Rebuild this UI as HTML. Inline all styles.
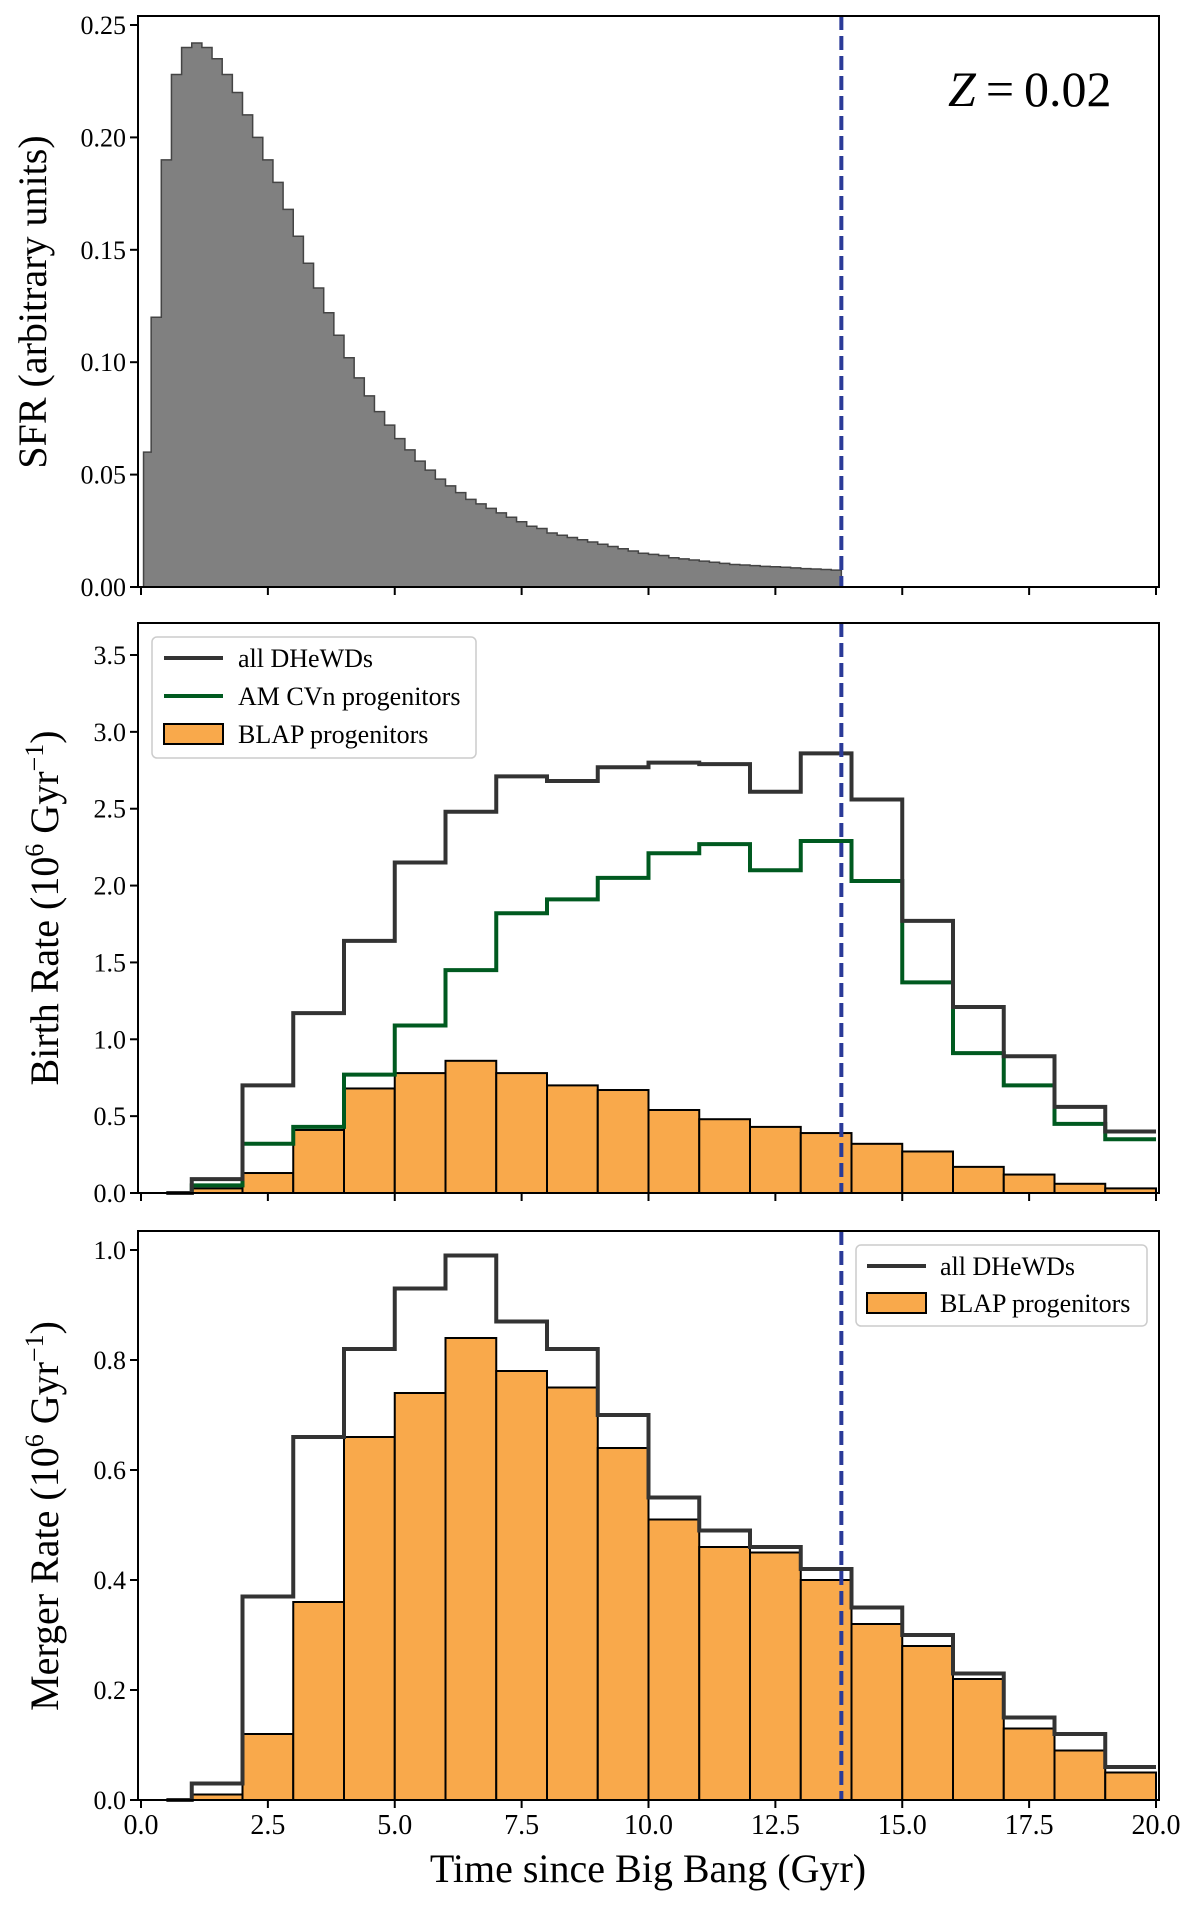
<!DOCTYPE html>
<html><head><meta charset="utf-8"><style>
html,body{margin:0;padding:0;background:#fff}
svg{display:block;font-family:"Liberation Serif",serif}
</style></head><body>
<svg id="c" width="1200" height="1905" xmlns="http://www.w3.org/2000/svg"></svg>
<script>
// ---- data ----
const sfrBinWidth = 0.2;
const sfrValues = [0.06,0.12,0.19,0.228,0.240,0.242,0.240,0.235,0.228,0.220,0.210,0.200,0.190,0.180,0.168,0.156,0.144,0.133,0.122,0.112,0.102,0.093,0.085,0.078,0.072,0.066,0.061,0.056,0.052,0.048,0.045,0.042,0.039,0.037,0.035,0.033,0.031,0.029,0.027,0.026,
0.024,0.023,0.022,0.021,0.020,0.019,0.018,0.017,0.016,0.015,
0.0145,0.014,0.013,0.0125,0.012,0.0115,0.011,0.0105,0.010,0.0098,
0.0095,0.0092,0.009,0.0088,0.0085,0.0082,0.008,0.0078,0.0075];
const binEdges = [0.5,1,2,3,4,5,6,7,8,9,10,11,12,13,14,15,16,17,18,19,20];
const birthAll = [0,0.09,0.70,1.17,1.64,2.15,2.48,2.71,2.68,2.77,2.80,2.79,2.61,2.86,2.56,1.77,1.21,0.89,0.56,0.40];
const birthAMCVn = [0,0.05,0.32,0.43,0.77,1.09,1.45,1.82,1.91,2.05,2.21,2.27,2.10,2.29,2.03,1.37,0.91,0.70,0.45,0.35];
const birthBLAP = [0,0.03,0.13,0.41,0.68,0.78,0.86,0.78,0.70,0.67,0.54,0.48,0.43,0.39,0.32,0.27,0.17,0.12,0.06,0.03];
const mergeAll = [0,0.03,0.37,0.66,0.82,0.93,0.99,0.87,0.82,0.70,0.55,0.49,0.46,0.42,0.35,0.30,0.23,0.15,0.12,0.06];
const mergeBLAP = [0,0.01,0.12,0.36,0.66,0.74,0.84,0.78,0.75,0.64,0.51,0.46,0.45,0.40,0.32,0.28,0.22,0.13,0.09,0.05];
const xTicks = [0,2.5,5,7.5,10,12.5,15,17.5,20];
const xTickLabels = ["0.0","2.5","5.0","7.5","10.0","12.5","15.0","17.5","20.0"];
const sfrTicks = [0,0.05,0.10,0.15,0.20,0.25];
const sfrTickLabels = ["0.00","0.05","0.10","0.15","0.20","0.25"];
const birthTicks = [0,0.5,1,1.5,2,2.5,3,3.5];
const birthTickLabels = ["0.0","0.5","1.0","1.5","2.0","2.5","3.0","3.5"];
const mergeTicks = [0,0.2,0.4,0.6,0.8,1.0];
const mergeTickLabels = ["0.0","0.2","0.4","0.6","0.8","1.0"];
const todayGyr = 13.8;

const svg = document.getElementById('c');
const NS = 'http://www.w3.org/2000/svg';
function mk(tag, attrs, parent){const e=document.createElementNS(NS,tag);for(const k in attrs)e.setAttribute(k,attrs[k]);(parent||svg).appendChild(e);return e;}
const X = t => 141 + 50.75*t;
const LEFT=138, RIGHT=1159;
const panels = [
  {top:16, bottom:587, y0:587, ymax:0.25, yTop:25},
  {top:623, bottom:1193, y0:1193, ymax:3.5, yTop:655},
  {top:1231, bottom:1800, y0:1800, ymax:1.0, yTop:1250}
];
function Yf(p){return v => p.y0 - (p.y0-p.yTop)*v/p.ymax;}

function stepPath(edges, vals, Y){
  let d='M'+X(edges[0])+','+Y(vals[0]);
  for(let i=0;i<vals.length;i++){
    d+=' L'+X(edges[i])+','+Y(vals[i])+' L'+X(edges[i+1])+','+Y(vals[i]);
  }
  return d;
}
function frame(p,name){
  const r=mk('rect',{x:LEFT,y:p.top,width:RIGHT-LEFT,height:p.bottom-p.top,fill:'none',stroke:'#000','stroke-width':2});
  
  
}
function yAxis(p,ticks,labels,name){
  const Y=Yf(p);
  ticks.forEach((v,i)=>{
    const l=mk('line',{x1:LEFT-8,x2:LEFT,y1:Y(v),y2:Y(v),stroke:'#000','stroke-width':2});
    
    
    const t=mk('text',{x:LEFT-12,y:Y(v)+9,'text-anchor':'end','font-size':26});
    t.textContent=labels[i];
    
    
  });
}
function xAxis(p,name,withLabels){
  xTicks.forEach((v,i)=>{
    const l=mk('line',{x1:X(v),x2:X(v),y1:p.bottom,y2:p.bottom+8,stroke:'#000','stroke-width':2});
    
    
    if(withLabels){
      const t=mk('text',{x:X(v),y:p.bottom+34,'text-anchor':'middle','font-size':28});
      t.textContent=xTickLabels[i];
      
      
    }
  });
}
function vline(p){
  const l=mk('line',{x1:X(todayGyr),x2:X(todayGyr),y1:p.top,y2:p.bottom,stroke:'#2a3a98','stroke-width':4,'stroke-dasharray':'14,6'});
  
  
}
function bars(p,vals,name){
  const Y=Yf(p);
  vals.forEach((v,i)=>{
    if(v<=0) return;
    const r=mk('rect',{x:X(binEdges[i]),y:Y(v),width:X(binEdges[i+1])-X(binEdges[i]),height:p.y0-Y(v),fill:'#f9a94b',stroke:'#000','stroke-width':2});
    
    
  });
}
function step(p,vals,color,name){
  const e=mk('path',{d:stepPath(binEdges,vals,Yf(p)),fill:'none',stroke:color,'stroke-width':4,'stroke-linejoin':'miter'});
  
  
}
function ylabel(html,cx,cy,name){
  const yl=mk('text',{x:0,y:0,'font-size':40,'text-anchor':'middle',transform:'translate('+cx+','+cy+') rotate(-90)'});
  yl.innerHTML=html;
  
  
}
const rateUnit='(10<tspan font-size="26" dy="-15">6</tspan><tspan dy="15"> Gyr</tspan><tspan font-size="26" dy="-15">\u22121</tspan><tspan dy="15">)</tspan>';

// Panel 1: SFR
(function(){
  const p=panels[0], Y=Yf(p);
  let d='M'+X(0.05)+','+Y(0);
  sfrValues.forEach((v,i)=>{d+=' L'+X(Math.max(0.05,i*sfrBinWidth))+','+Y(v)+' L'+X((i+1)*sfrBinWidth)+','+Y(v);});
  d+=' L'+X(sfrValues.length*sfrBinWidth)+','+Y(0)+' Z';
  const a=mk('path',{d:d,fill:'#808080',stroke:'#444','stroke-width':1.5});
  
  
  vline(p); frame(p,'sfr-panel'); yAxis(p,sfrTicks,sfrTickLabels,'sfr'); xAxis(p,'sfr',false);
  const z=mk('text',{x:948,y:106,'font-size':50});
  z.innerHTML='<tspan font-style="italic">Z</tspan>\u2009=\u20090.02';
  
  
  ylabel('SFR (arbitrary units)',46,302,'sfr-y-axis-title');
})();

// Panel 2: Birth rate
(function(){
  const p=panels[1];
  bars(p,birthBLAP,'birth-blap');
  step(p,birthAMCVn,'#005a20','birth-amcvn-line');
  step(p,birthAll,'#333','birth-all-line');
  vline(p); frame(p,'birth-panel'); yAxis(p,birthTicks,birthTickLabels,'birth'); xAxis(p,'birth',false);
  ylabel('Birth Rate '+rateUnit,58,908,'birth-y-axis-title');
  const g=mk('g',{});
  
  
  mk('rect',{x:152,y:637,width:324,height:121,rx:5,fill:'#fff',stroke:'#ccc','stroke-width':1.5},g);
  const items=[['line','#333','all DHeWDs',658],['line','#005a20','AM CVn progenitors',696],['patch','#f9a94b','BLAP progenitors',734]];
  items.forEach(it=>{
    if(it[0]==='line') mk('line',{x1:164,x2:223,y1:it[3],y2:it[3],stroke:it[1],'stroke-width':4},g);
    else mk('rect',{x:164,y:it[3]-10,width:59,height:20,fill:it[1],stroke:'#000','stroke-width':2},g);
    const t=mk('text',{x:238,y:it[3]+9,'font-size':26},g); t.textContent=it[2];
  });
})();

// Panel 3: Merger rate
(function(){
  const p=panels[2];
  bars(p,mergeBLAP,'merge-blap');
  step(p,mergeAll,'#333','merge-all-line');
  vline(p); frame(p,'merge-panel'); yAxis(p,mergeTicks,mergeTickLabels,'merge'); xAxis(p,'merge',true);
  ylabel('Merger Rate '+rateUnit,58,1516,'merge-y-axis-title');
  const xl=mk('text',{x:648,y:1882,'font-size':40,'text-anchor':'middle'});
  xl.textContent='Time since Big Bang (Gyr)';
  
  
  const g=mk('g',{});
  
  
  mk('rect',{x:856,y:1245,width:291,height:81,rx:5,fill:'#fff',stroke:'#ccc','stroke-width':1.5},g);
  mk('line',{x1:867,x2:926,y1:1266,y2:1266,stroke:'#333','stroke-width':4},g);
  let t=mk('text',{x:940,y:1275,'font-size':26},g); t.textContent='all DHeWDs';
  mk('rect',{x:867,y:1293,width:59,height:20,fill:'#f9a94b',stroke:'#000','stroke-width':2},g);
  t=mk('text',{x:940,y:1312,'font-size':26},g); t.textContent='BLAP progenitors';
})();
</script>
</body></html>
